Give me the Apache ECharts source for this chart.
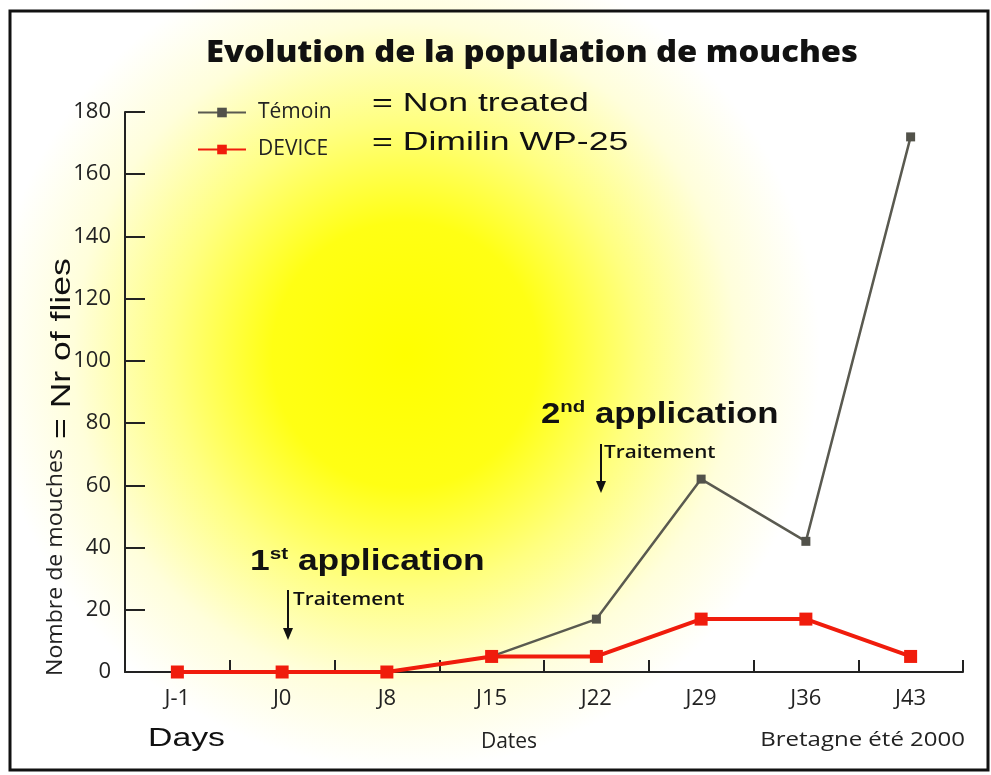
<!DOCTYPE html>
<html>
<head>
<meta charset="utf-8">
<script src="https://cdn.jsdelivr.net/npm/echarts@6/dist/echarts.min.js"></script>
<style>
html, body { margin: 0; padding: 0; background: #fff; }
#graph { width: 991px; height: 775px; }
</style>
</head>
<body>
<div id="graph"></div>
<script>
var days = ['J-1', 'J0', 'J8', 'J15', 'J22', 'J29', 'J36', 'J43'];
var temoin = [0, 0, 0, 5, 17, 62, 42, 172];
var device = [0, 0, 0, 5, 5, 17, 17, 5];
var yMin = 0, yMax = 180, yStep = 20;

var labelFont = 'Open Sans';
var arialFont = '"Liberation Sans", Arial, sans-serif';

function arrow(x, y1, y2) {
    return [{
        type: 'line', z: 100,
        shape: {x1: x, y1: y1, x2: x, y2: y2 - 10},
        style: {stroke: '#111', lineWidth: 2}
    }, {
        type: 'polygon', z: 100,
        shape: {points: [[x - 5, y2 - 12], [x + 5, y2 - 12], [x, y2]]},
        style: {fill: '#111'}
    }];
}

var richApp = {
    n: {font: 'bold 29px ' + arialFont, fill: '#111', lineHeight: 32},
    s: {font: 'bold 17px ' + arialFont, fill: '#111', lineHeight: 32, verticalAlign: 'top'}
};

var graphics = [{
    // yellow glow behind the plot
    type: 'rect', z: -100, silent: true,
    shape: {x: 0, y: 0, width: 991, height: 775},
    style: {
        fill: new echarts.graphic.RadialGradient(405, 355, 415, [
            {offset: 0, color: '#ffff00'},
            {offset: 0.32, color: '#ffff14'},
            {offset: 0.56, color: '#ffff80'},
            {offset: 0.8, color: '#fffedb'},
            {offset: 1, color: '#ffffff'}
        ], true)
    }
}, {
    type: 'rect', z: 100, silent: true,
    shape: {x: 10, y: 11, width: 978, height: 759},
    style: {fill: null, stroke: '#111', lineWidth: 3}
}, {
    type: 'text', z: 100, x: 532, y: 53, scaleX: 1.09,
    style: {text: 'Evolution de la population de mouches', font: '800 30px "Open Sans"', fill: '#111',
        textAlign: 'center', textVerticalAlign: 'middle'}
}, {
    type: 'text', z: 100, x: 372, y: 104, scaleX: 1.37,
    style: {text: '= Non treated', font: '26px ' + arialFont, fill: '#111', textVerticalAlign: 'middle'}
}, {
    type: 'text', z: 100, x: 372, y: 143, scaleX: 1.37,
    style: {text: '= Dimilin WP-25', font: '26px ' + arialFont, fill: '#111', textVerticalAlign: 'middle'}
}, {
    type: 'text', z: 100, x: 56, y: 676, rotation: Math.PI / 2, scaleX: 1.1,
    style: {text: 'Nombre de mouches', font: '21px "Open Sans"', fill: '#222', textVerticalAlign: 'middle'}
}, {
    type: 'text', z: 100, x: 62, y: 439, rotation: Math.PI / 2, scaleX: 1.27,
    style: {text: '= Nr of flies', font: '28px ' + arialFont, fill: '#111', textVerticalAlign: 'middle'}
}, {
    type: 'text', z: 100, x: 250, y: 562, scaleX: 1.22,
    style: {text: '{n|1}{s|st}{n| application}', textVerticalAlign: 'middle', rich: richApp}
}, {
    type: 'text', z: 100, x: 293, y: 600, scaleX: 1.15,
    style: {text: 'Traitement', font: '600 18px "Open Sans"', fill: '#111', textVerticalAlign: 'middle'}
}, {
    type: 'text', z: 100, x: 541, y: 415, scaleX: 1.2,
    style: {text: '{n|2}{s|nd}{n| application}', textVerticalAlign: 'middle', rich: richApp}
}, {
    type: 'text', z: 100, x: 604, y: 453, scaleX: 1.15,
    style: {text: 'Traitement', font: '600 18px "Open Sans"', fill: '#111', textVerticalAlign: 'middle'}
}, {
    type: 'text', z: 100, x: 148, y: 739, scaleX: 1.3,
    style: {text: 'Days', font: '26px ' + arialFont, fill: '#111', textVerticalAlign: 'middle'}
}, {
    type: 'text', z: 100, x: 509, y: 742,
    style: {text: 'Dates', font: '21px "Open Sans"', fill: '#222', textAlign: 'center', textVerticalAlign: 'middle'}
}, {
    type: 'text', z: 100, x: 965, y: 740, scaleX: 1.2,
    style: {text: 'Bretagne été 2000', font: '20px "Open Sans"', fill: '#222', textAlign: 'right', textVerticalAlign: 'middle'}
}].concat(arrow(288, 590, 640), arrow(601, 444, 493));

var option = {
    animation: false,
    legend: {
        data: ['Témoin', 'DEVICE'],
        orient: 'vertical',
        left: 192, top: 97,
        itemWidth: 48, itemHeight: 12, itemGap: 16,
        textStyle: {fontFamily: labelFont, fontSize: 21, color: '#222', padding: [0, 0, 0, 7]}
    },
    grid: {left: 125, right: 28, top: 112, bottom: 103},
    xAxis: {
        type: 'category',
        data: days,
        boundaryGap: true,
        axisLine: {lineStyle: {color: '#222', width: 2}},
        axisTick: {show: true, inside: true, length: 12, lineStyle: {color: '#222', width: 2}},
        axisLabel: {fontFamily: labelFont, fontSize: 22, color: '#222', margin: 16}
    },
    yAxis: {
        type: 'value',
        min: yMin, max: yMax, interval: yStep,
        axisLine: {show: true, lineStyle: {color: '#222', width: 2}},
        axisTick: {show: true, inside: true, length: 20, lineStyle: {color: '#222', width: 2}},
        axisLabel: {fontFamily: labelFont, fontSize: 22, color: '#222', margin: 14},
        splitLine: {show: false}
    },
    series: [{
        name: 'Témoin',
        type: 'line',
        data: temoin,
        symbol: 'rect',
        symbolSize: 9,
        lineStyle: {color: '#5a5a50', width: 2.5},
        itemStyle: {color: '#52524a'}
    }, {
        name: 'DEVICE',
        type: 'line',
        data: device,
        symbol: 'rect',
        symbolSize: 13,
        lineStyle: {color: '#f01c0c', width: 4},
        itemStyle: {color: '#f01c0c'}
    }],
    graphic: graphics
};

var chart = echarts.init(document.getElementById('graph'));
chart.setOption(option);
</script>
</body>
</html>
